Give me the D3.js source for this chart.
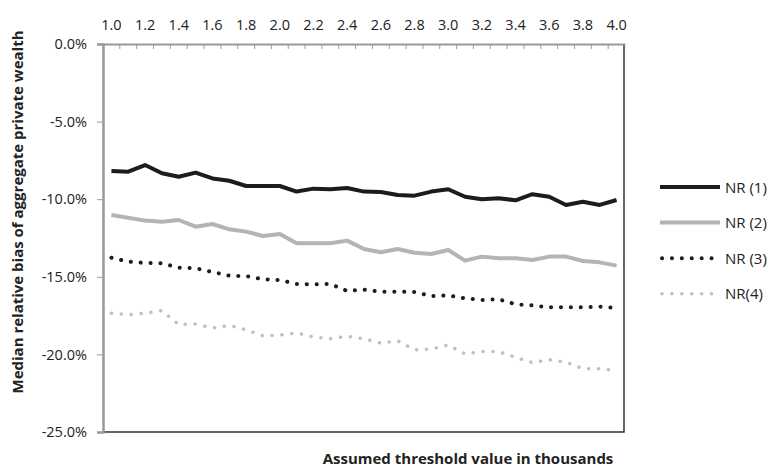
<!DOCTYPE html>
<html><head><meta charset="utf-8">
<script src="https://cdn.jsdelivr.net/npm/d3@7"></script>
<style>body{margin:0;background:#fff}svg{display:block}text{font-family:"Open Sans",sans-serif;fill:#222}</style>
</head><body>
<svg id="chart" width="769" height="468"></svg>
<script>
// thresholds (thousands)
var thresholds = d3.range(31).map(function(i){ return (1 + i/10).toFixed(1); });
var nr1 = [-8.18,-8.23,-7.8,-8.33,-8.55,-8.29,-8.66,-8.81,-9.15,-9.15,-9.15,-9.51,-9.32,-9.36,-9.28,-9.51,-9.54,-9.73,-9.77,-9.51,-9.36,-9.84,-10.0,-9.94,-10.07,-9.68,-9.84,-10.37,-10.16,-10.37,-10.05];
var nr2 = [-11.02,-11.19,-11.38,-11.45,-11.34,-11.77,-11.6,-11.94,-12.09,-12.37,-12.24,-12.84,-12.84,-12.84,-12.67,-13.21,-13.42,-13.21,-13.45,-13.53,-13.27,-13.96,-13.7,-13.81,-13.81,-13.92,-13.7,-13.7,-13.98,-14.07,-14.28];
var nr3 = [-13.77,-14.02,-14.11,-14.13,-14.41,-14.45,-14.69,-14.93,-14.95,-15.16,-15.21,-15.46,-15.48,-15.46,-15.91,-15.83,-15.96,-15.96,-15.98,-16.24,-16.2,-16.39,-16.49,-16.45,-16.77,-16.84,-16.97,-16.97,-16.97,-16.92,-17.01];
var nr4 = [-17.35,-17.44,-17.35,-17.18,-18.08,-18.04,-18.3,-18.13,-18.41,-18.81,-18.75,-18.62,-18.88,-18.99,-18.84,-18.99,-19.27,-19.12,-19.7,-19.65,-19.4,-19.97,-19.82,-19.82,-20.19,-20.53,-20.34,-20.51,-20.92,-20.92,-21.05];
var yTicks = [0,-5,-10,-15,-20,-25];
var xTickLabels = thresholds.filter(function(d,i){ return i % 2 == 0; });

var series = [
  {name:'NR (1)', values:nr1, color:'#1c1c1c', width:4, dash:null},
  {name:'NR (2)', values:nr2, color:'#b4b4b4', width:4, dash:null},
  {name:'NR (3)', values:nr3, color:'#1c1c1c', width:4, dash:'0.1 9.8'},
  {name:'NR(4)', values:nr4, color:'#c0c0c0', width:3.5, dash:'0.1 9.8'}
];

var svg = d3.select('#chart');
var L = 103, R = 625, T = 44, B = 432;
var x = d3.scaleBand().domain(thresholds).range([L, R]);
var y = d3.scaleLinear().domain([-25, 0]).range([B, T]);

// plot frame (right + bottom)
svg.append('path').attr('d','M'+L+','+B+'H'+(R-1)+'V'+T)
  .attr('fill','none').attr('stroke','#333').attr('stroke-width',1.5);

// top axis
var xAxis = d3.axisTop(x).tickValues(xTickLabels).tickSize(0).tickPadding(14);
var gx = svg.append('g').attr('transform','translate(0,'+T+')').call(xAxis);
gx.select('.domain').attr('stroke','#999').attr('stroke-width',2);
gx.selectAll('text').attr('font-size',14.5).style('fill','#222');
// boundary ticks
svg.append('g').selectAll('line').data(thresholds.slice(1)).enter().append('line')
  .attr('x1',function(d){return x(d);}).attr('x2',function(d){return x(d);})
  .attr('y1',T).attr('y2',T+5).attr('stroke','#999').attr('stroke-width',1);

// left axis
var yAxis = d3.axisLeft(y).tickValues(yTicks).tickSize(6).tickPadding(10)
  .tickFormat(function(d){ return d.toFixed(1)+'%'; });
var gy = svg.append('g').attr('transform','translate('+L+',0)').call(yAxis);
gy.select('.domain').attr('stroke','#999').attr('stroke-width',2.5);
gy.selectAll('line').attr('stroke','#999');
gy.selectAll('text').attr('font-size',14.5).style('fill','#222');

// lines
var line = d3.line()
  .x(function(d,i){ return x(thresholds[i]) + x.bandwidth()/2; })
  .y(function(d){ return y(d); });
series.forEach(function(s){
  svg.append('path').datum(s.values).attr('d',line)
    .attr('fill','none').attr('stroke',s.color).attr('stroke-width',s.width)
    .attr('stroke-linecap', s.dash ? 'round' : 'butt')
    .attr('stroke-linejoin','round')
    .attr('stroke-dasharray',s.dash);
});

// legend
var lg = svg.append('g');
series.forEach(function(s,i){
  var ly = 187 + i*35.6;
  lg.append('line').attr('x1',s.dash ? 662 : 660).attr('x2',720).attr('y1',ly).attr('y2',ly)
    .attr('stroke',s.color).attr('stroke-width',s.width)
    .attr('stroke-linecap', s.dash ? 'round' : 'butt')
    .attr('stroke-dasharray',s.dash);
  lg.append('text').attr('x',725).attr('y',ly+5.5).attr('font-size',15).text(s.name);
});

// axis titles
svg.append('text').attr('x',468).attr('y',464).attr('text-anchor','middle')
  .attr('font-size',15).attr('font-weight','bold').text('Assumed threshold value in thousands');
svg.append('text').attr('transform','translate(23,212) rotate(-90)').attr('text-anchor','middle')
  .attr('font-size',15).attr('font-weight','bold').text('Median relative bias of aggregate private wealth');
</script>
</body></html>
